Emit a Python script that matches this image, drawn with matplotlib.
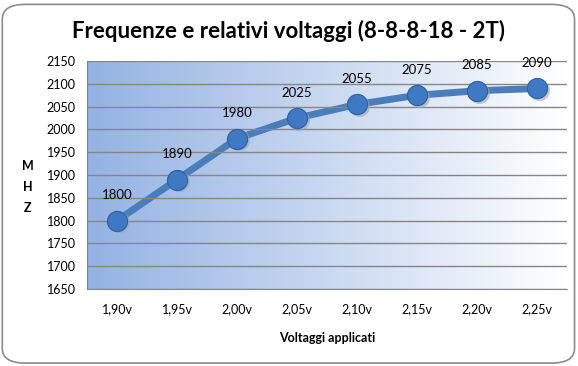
import numpy as np
import matplotlib.pyplot as plt
from matplotlib.patches import FancyBboxPatch

voltages = ['1,90v', '1,95v', '2,00v', '2,05v', '2,10v', '2,15v', '2,20v', '2,25v']
freqs = [1800, 1890, 1980, 2025, 2055, 2075, 2085, 2090]

plt.rcParams['font.family'] = ['Lato', 'DejaVu Sans']

fig = plt.figure(figsize=(5.78, 3.66), dpi=100, facecolor='white')

# rounded chart border
border = FancyBboxPatch((0.004, 0.008), 0.99, 0.98, boxstyle='round,pad=0,rounding_size=0.04',
                        transform=fig.transFigure, facecolor='none', edgecolor='#8c8c8c', lw=1.2,
                        zorder=-1)
fig.patches.append(border)

ax = fig.add_axes([0.1505, 0.2104, 0.8305, 0.6226])
ax.set_xlim(-0.5, len(voltages) - 0.5)
ax.set_ylim(1650, 2150)

# gradient background: blue on the left fading to white
grad = np.linspace(0, 1, 256).reshape(1, -1)
left = np.array([0.58, 0.70, 0.89])
right = np.array([1.0, 1.0, 1.0])
img = left[None, None, :] * (1 - grad[..., None]) + right[None, None, :] * grad[..., None]
ax.imshow(img, extent=[-0.5, len(voltages) - 0.5, 1650, 2150], aspect='auto', zorder=0)

ax.set_yticks(np.arange(1650, 2151, 50))
ax.yaxis.grid(True, color='#868686', lw=1)
ax.set_axisbelow(False)
for gl in ax.get_ygridlines():
    gl.set_zorder(1)

x = np.arange(len(voltages))
ax.plot(x, freqs, color='#4a7ebb', lw=5, zorder=2, solid_capstyle='round')
ax.scatter(x + 0.03, np.array(freqs) - 4, s=230, color='#9aa6b5', alpha=0.6, zorder=3, lw=0)
ax.scatter(x, freqs, s=210, color='#3f79c4', edgecolor='#2e5f9e', lw=0.8, zorder=4)
for xi, f in zip(x, freqs):
    ax.annotate(str(f), (xi, f), xytext=(0, 14), textcoords='offset points',
                ha='center', va='bottom', fontsize=9.5, zorder=5)

ax.set_xticks(x)
ax.set_xticklabels(voltages, fontsize=9)
ax.tick_params(axis='y', labelsize=9, length=0, pad=8)
ax.tick_params(axis='x', length=0, pad=10)
for s in ['top', 'right']:
    ax.spines[s].set_visible(False)
ax.spines['left'].set_color('#868686')
ax.spines['bottom'].set_color('#868686')

ax.set_xlabel('Voltaggi applicati', fontsize=9, fontweight='bold', labelpad=12)
fig.text(0.048, 0.49, 'M\nH\nZ', fontsize=9, fontweight='bold', ha='center', va='center',
         linespacing=1.9)

fig.text(0.5, 0.915, 'Frequenze e relativi voltaggi (8-8-8-18 - 2T)', fontsize=16,
         fontweight='bold', ha='center', va='center')

fig.savefig('out.png', dpi=100)
